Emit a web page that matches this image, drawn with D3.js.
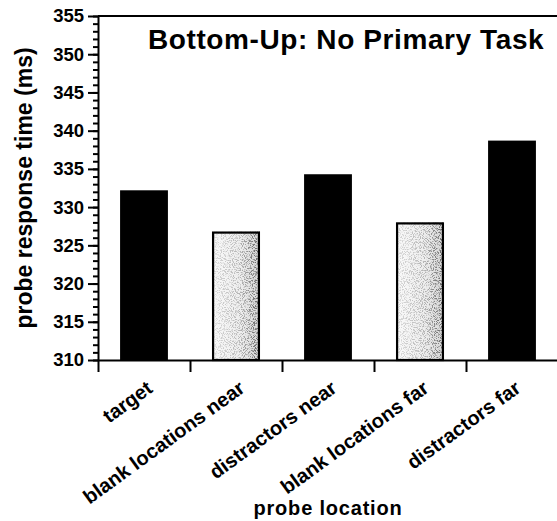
<!DOCTYPE html>
<head>
  <meta charset="utf-8">
  <script src="https://d3js.org/d3.v7.min.js"></script>
  <style>
    body {
        margin: 0;
        background: #fff;
        font-family: "Liberation Sans", Arial, Helvetica, sans-serif;
    }
    text {
        font-family: "Liberation Sans", Arial, Helvetica, sans-serif;
        font-weight: bold;
        fill: #000;
    }
    .axis path, .axis line {
        fill: none;
        stroke: #000;
        stroke-width: 2px;
    }
  </style>
</head>
<body>
  <script>

    // chart data
    var categories = ["target", "blank locations near", "distractors near",
                      "blank locations far", "distractors far"];
    var responseTimes = [332.2, 326.8, 334.3, 328.0, 338.7];
    var barKinds = ["solid", "stipple", "solid", "stipple", "solid"];
    var yMajorTicks = [310, 315, 320, 325, 330, 335, 340, 345, 350, 355];

    var titleText = "Bottom-Up: No Primary Task";
    var yTitle = "probe response time (ms)";
    var xTitle = "probe location";

    var W = 557, H = 521;
    var margin = {top: 16, right: -1, bottom: 161, left: 98};
    var width = W - margin.left - margin.right,
        height = H - margin.top - margin.bottom;

    var svg = d3.select("body").append("svg")
        .attr("width", W)
        .attr("height", H);

    var defs = svg.append("defs");

    // light base of the stippled bars
    var base = defs.append("linearGradient")
        .attr("id", "stippleBase")
        .attr("x1", "0%").attr("x2", "100%");
    base.append("stop").attr("offset", "0%").attr("stop-color", "#fafafa");
    base.append("stop").attr("offset", "60%").attr("stop-color", "#eeeeee");
    base.append("stop").attr("offset", "100%").attr("stop-color", "#d6d6d6");

    // how dark the specks get, left to right
    var shade = defs.append("linearGradient")
        .attr("id", "stippleShade")
        .attr("x1", "0%").attr("x2", "100%");
    shade.append("stop").attr("offset", "0%").attr("stop-color", "#000").attr("stop-opacity", 0.12);
    shade.append("stop").attr("offset", "60%").attr("stop-color", "#000").attr("stop-opacity", 0.25);
    shade.append("stop").attr("offset", "100%").attr("stop-color", "#000").attr("stop-opacity", 0.55);

    var speck = defs.append("filter")
        .attr("id", "speck")
        .attr("x", 0).attr("y", 0).attr("width", 1).attr("height", 1);
    speck.append("feTurbulence")
        .attr("type", "fractalNoise")
        .attr("baseFrequency", 0.9)
        .attr("numOctaves", 2)
        .attr("seed", 7)
        .attr("result", "noise");
    speck.append("feColorMatrix")
        .attr("in", "noise")
        .attr("type", "matrix")
        .attr("values", "0 0 0 0 0  0 0 0 0 0  0 0 0 0 0  6 0 0 0 -2.9")
        .attr("result", "dots");
    speck.append("feComposite")
        .attr("in", "dots")
        .attr("in2", "SourceGraphic")
        .attr("operator", "in");

    var g = svg.append("g")
        .attr("transform", "translate(" + margin.left + "," + margin.top + ")");

    var x = d3.scaleBand()
        .domain(categories)
        .range([0, width])
        .paddingInner(0.48)
        .paddingOuter(0.24);

    // tick marks sit on the band boundaries
    var xEdge = d3.scaleLinear()
        .domain([0, categories.length])
        .range([0, width]);

    var y = d3.scaleLinear()
        .domain([310, 355])
        .range([height, 0]);

    var valueOf = d => responseTimes[categories.indexOf(d)];
    var lightBars = categories.filter((d, i) => barKinds[i] === "stipple");

    // bars
    g.selectAll(".bar")
        .data(categories)
        .enter().append("rect")
        .attr("class", "bar")
        .attr("x", d => x(d))
        .attr("width", x.bandwidth())
        .attr("y", d => y(valueOf(d)))
        .attr("height", d => height - y(valueOf(d)))
        .style("fill", (d, i) => barKinds[i] === "solid" ? "#000" : "url(#stippleBase)");

    // speckle overlay on the light bars
    g.selectAll(".speck")
        .data(lightBars)
        .enter().append("rect")
        .attr("class", "speck")
        .attr("x", d => x(d))
        .attr("width", x.bandwidth())
        .attr("y", d => y(valueOf(d)))
        .attr("height", d => height - y(valueOf(d)))
        .style("fill", "url(#stippleShade)")
        .attr("filter", "url(#speck)");

    g.selectAll(".outline")
        .data(lightBars)
        .enter().append("rect")
        .attr("class", "outline")
        .attr("x", d => x(d) + 1)
        .attr("width", x.bandwidth() - 2)
        .attr("y", d => y(valueOf(d)) + 1)
        .attr("height", d => height - y(valueOf(d)) - 1)
        .style("fill", "none")
        .style("stroke", "#000")
        .style("stroke-width", 2.2);

    // top frame line
    g.append("line")
        .attr("x1", 0).attr("x2", width + 2)
        .attr("y1", 0).attr("y2", 0)
        .style("stroke", "#000")
        .style("stroke-width", 2);

    // y axis: minor ticks every 1 ms, major every 5 ms
    var yMinor = d3.axisLeft(y)
        .tickValues(d3.range(310, 356, 1))
        .tickSize(5)
        .tickFormat("");
    g.append("g").attr("class", "y axis minor").call(yMinor)
        .select(".domain").remove();

    var yAxis = d3.axisLeft(y)
        .tickValues(yMajorTicks)
        .tickSize(10)
        .tickSizeOuter(0)
        .tickPadding(4);
    var ya = g.append("g").attr("class", "y axis").call(yAxis);
    ya.selectAll("text").style("font-size", "18.5px");

    // x axis: line plus boundary ticks, labels rotated
    var xTicks = d3.axisBottom(xEdge)
        .tickValues(d3.range(0, categories.length + 1))
        .tickSize(12)
        .tickSizeOuter(0)
        .tickFormat("");
    g.append("g").attr("class", "x axis")
        .attr("transform", "translate(0," + height + ")")
        .call(xTicks);

    g.append("g").attr("class", "x labels")
        .selectAll("text")
        .data(categories)
        .enter().append("text")
        .attr("transform", d => "translate(" + (x(d) + x.bandwidth() / 2 + 10) + "," + (height + 31) + ") rotate(-36)")
        .attr("text-anchor", "end")
        .style("font-size", "20px")
        .text(d => d);

    // titles
    svg.append("text")
        .attr("x", 148)
        .attr("y", 49)
        .style("font-size", "28px")
        .style("letter-spacing", "0.6px")
        .text(titleText);

    svg.append("text")
        .attr("transform", "translate(32," + (margin.top + height / 2) + ") rotate(-90)")
        .attr("text-anchor", "middle")
        .style("font-size", "23px")
        .text(yTitle);

    svg.append("text")
        .attr("x", margin.left + width / 2)
        .attr("y", 515)
        .attr("text-anchor", "middle")
        .style("font-size", "20px")
        .style("letter-spacing", "0.8px")
        .text(xTitle);
  </script>
</body>
